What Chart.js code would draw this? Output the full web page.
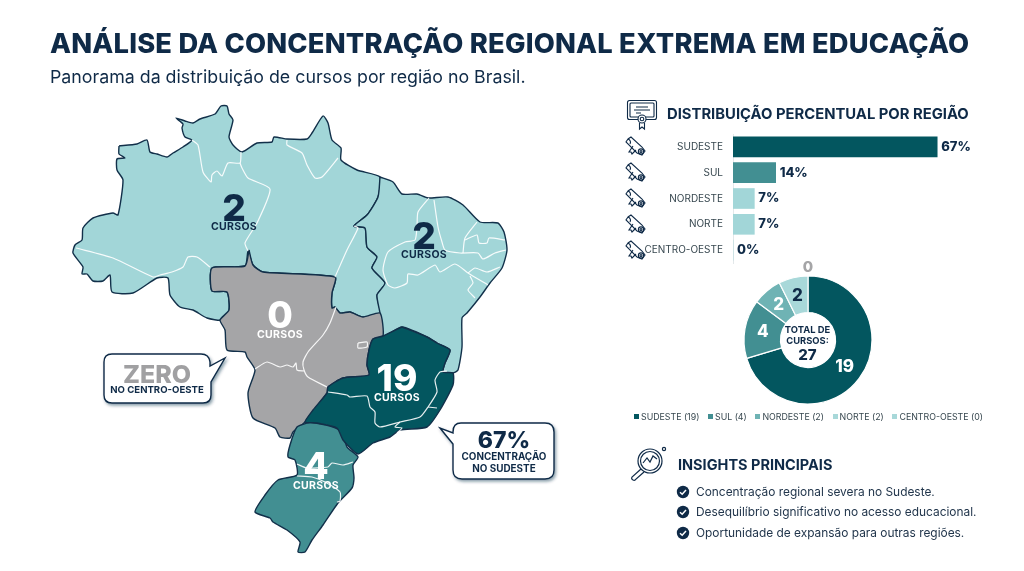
<!DOCTYPE html>
<html lang="pt-BR">
<head>
<meta charset="utf-8">
<title>Concentração regional</title>
<script src="https://cdn.jsdelivr.net/npm/chart.js@4"></script>
<style>
  html, body { margin: 0; padding: 0; background: #fff; }
  body { width: 1024px; height: 571px; position: relative; overflow: hidden; font-family: Inter, sans-serif; color: #0f2a47; }
  canvas { position: absolute; }
  .t { position: absolute; white-space: nowrap; line-height: 1; }
  .c { transform: translate(-50%, -50%); text-align: center; }
  .num { font-weight: 800; font-size: 37px; }
  .cur { font-weight: 700; font-size: 10.5px; letter-spacing: .3px; }
  .w { color: #fff; }
  svg { position: absolute; overflow: visible; }
  #legend { position: absolute; left: 634px; top: 411px; width: 349px; height: 12px; display: flex; justify-content: space-between; font-size: 8.8px; color: #37474f; line-height: 12px; white-space: nowrap; }
  #legend i { display: inline-block; width: 5px; height: 5px; margin-right: 2px; vertical-align: 1px; }
  .ins { left: 696px; font-size: 11.9px; color: #22364c; transform: translateY(-50%); }
</style>
</head>
<body>
<canvas id="mapChart" width="1024" height="571" style="left:0;top:0;width:1024px;height:571px"></canvas>
<canvas id="barChart" width="369" height="161" style="left:620px;top:118px;width:369px;height:161px"></canvas>
<canvas id="donutChart" width="364" height="164" style="left:625.5px;top:258px;width:364px;height:164px"></canvas>

<div class="t" style="left:50px;top:29.5px;font-size:27.3px;font-weight:800;letter-spacing:.2px">ANÁLISE DA CONCENTRAÇÃO REGIONAL EXTREMA EM EDUCAÇÃO</div>
<div class="t" style="left:50px;top:68px;font-size:17.8px;font-weight:400">Panorama da distribuição de cursos por região no Brasil.</div>

<div class="t c num" style="left:234px;top:207px">2</div>
<div class="t c cur" style="left:234px;top:227px">CURSOS</div>
<div class="t c num" style="left:424px;top:235px">2</div>
<div class="t c cur" style="left:424px;top:255px">CURSOS</div>
<div class="t c num w" style="left:280px;top:314px">0</div>
<div class="t c cur w" style="left:280px;top:335px">CURSOS</div>
<div class="t c num w" style="left:397px;top:377px">19</div>
<div class="t c cur w" style="left:397px;top:398px">CURSOS</div>
<div class="t c num w" style="left:316px;top:465px">4</div>
<div class="t c cur w" style="left:316px;top:486px">CURSOS</div>

<svg width="1024" height="571" style="left:0;top:0">
  <defs><filter id="sh" x="-20%" y="-20%" width="150%" height="150%"><feDropShadow dx="1.5" dy="2" stdDeviation="1.5" flood-color="#0f2a47" flood-opacity=".45"/></filter></defs>
  <path filter="url(#sh)" d="M112 354H201Q209 354 210 362V366L225 358L211 382V395Q211 403 203 403H112Q104 403 104 395V362Q104 354 112 354Z" fill="#fff" stroke="#0f2a47" stroke-width="1.4"/>
  <path filter="url(#sh)" d="M461 423H545Q554 423 554 432V470Q554 479 545 479H462Q453 479 453 470V444L440 428L453 433V432Q453 423 461 423Z" fill="#fff" stroke="#0f2a47" stroke-width="1.4"/>
</svg>
<div class="t c" style="left:157px;top:374px;font-size:25px;font-weight:800;color:#a0a0a2">ZERO</div>
<div class="t c" style="left:157px;top:390px;font-size:9.6px;font-weight:700">NO CENTRO-OESTE</div>
<div class="t c" style="left:504px;top:440px;font-size:23px;font-weight:800">67%</div>
<div class="t c" style="left:504px;top:457px;font-size:9.9px;font-weight:700">CONCENTRAÇÃO</div>
<div class="t c" style="left:504px;top:469px;font-size:9.9px;font-weight:700">NO SUDESTE</div>

<!-- certificado -->
<svg width="32" height="30" style="left:627px;top:100px" fill="none" stroke="#0f2a47" stroke-width="1.1">
  <rect x=".5" y=".5" width="29" height="19" rx="2"/><rect x="3" y="3" width="24" height="14" rx="1"/>
  <path d="M9 7H21M7 10H23M9 13H14"/><circle cx="15" cy="19" r="4" fill="#fff"/><circle cx="15" cy="19" r="1.8"/><path d="M12.5 23V29L15 27L17.5 29V23"/>
</svg>
<div class="t" style="left:667px;top:107px;font-size:14.8px;font-weight:700">DISTRIBUIÇÃO PERCENTUAL POR REGIÃO</div>

<svg width="0" height="0"><defs>
  <g id="roll" fill="none" stroke="#0f2a47" stroke-width="1.1">
    <path d="M3 2L1 5L12 16L17 18L20 14L17 10L6 0Z" fill="#fff"/><path d="M3 2C5 3 6 5 5 7M8 9L4 15L6 15L7 17L11 13"/><circle cx="16" cy="14.5" r="2.6"/><circle cx="16" cy="14.5" r="1"/>
  </g></defs></svg>
<svg width="22" height="20" style="left:625px;top:137px"><use href="#roll"/></svg>
<svg width="22" height="20" style="left:625px;top:163px"><use href="#roll"/></svg>
<svg width="22" height="20" style="left:625px;top:189px"><use href="#roll"/></svg>
<svg width="22" height="20" style="left:625px;top:215px"><use href="#roll"/></svg>
<svg width="22" height="20" style="left:625px;top:241px"><use href="#roll"/></svg>

<div class="t c" style="left:807.5px;top:335px;font-size:9.4px;font-weight:700;line-height:11px">TOTAL DE<br>CURSOS:</div>
<div class="t c" style="left:807.5px;top:354px;font-size:15px;font-weight:800">27</div>
<div id="legend"></div>

<!-- lupa -->
<svg width="38" height="36" style="left:630px;top:446px" fill="none" stroke="#0f2a47" stroke-width="1.2">
  <circle cx="20" cy="15" r="12"/><circle cx="20" cy="15" r="9.5"/><path d="M13 17L17 12L20 16L23 10L27 13"/><path d="M11 23L2 31Q1 33 3 34Q5 35 6 33L14 26"/><circle cx="34" cy="3" r="1.6"/>
</svg>
<div class="t" style="left:678px;top:457.5px;font-size:14.5px;font-weight:700">INSIGHTS PRINCIPAIS</div>

<svg width="14" height="14" viewBox="0 0 14 14" style="left:676px;top:484.5px"><circle cx="7" cy="7" r="6.2" fill="#0f2a47"/><path d="M4 7.2L6.2 9.2L10 5" fill="none" stroke="#fff" stroke-width="1.5"/></svg>
<svg width="14" height="14" viewBox="0 0 14 14" style="left:676px;top:505px"><circle cx="7" cy="7" r="6.2" fill="#0f2a47"/><path d="M4 7.2L6.2 9.2L10 5" fill="none" stroke="#fff" stroke-width="1.5"/></svg>
<svg width="14" height="14" viewBox="0 0 14 14" style="left:676px;top:526px"><circle cx="7" cy="7" r="6.2" fill="#0f2a47"/><path d="M4 7.2L6.2 9.2L10 5" fill="none" stroke="#fff" stroke-width="1.5"/></svg>
<div class="t ins" style="top:491.5px">Concentração regional severa no Sudeste.</div>
<div class="t ins" style="top:512px">Desequilíbrio significativo no acesso educacional.</div>
<div class="t ins" style="top:533px">Oportunidade de expansão para outras regiões.</div>

<script>
const regions = ['SUDESTE', 'SUL', 'NORDESTE', 'NORTE', 'CENTRO-OESTE']
const percentages = [67, 14, 7, 7, 0]
const courses = [19, 4, 2, 2, 0]
const barColors = ['#03565f', '#428f92', '#a2d6d8', '#a2d6d8', '#a2d6d8']
const donutColors = ['#03565f', '#428f92', '#6fb3b4', '#a8d8d9', '#a8d8d9']

// contornos
const norte = [[119,146],[137,144],[147,140],[150,152],[157,154],[167,157],[173,153],[183,147],[192,140],[185,137],[182,128],[183,124],[176,118],[185,121],[193,123],[200,119],[215,114],[221,106],[227,106],[229,114],[233,120],[229,137],[233,145],[242,152],[257,143],[272,142],[274,137],[287,139],[307,139],[312,133],[323,116],[328,123],[332,140],[341,148],[341,160],[357,170],[380,177],[378,197],[367,215],[354,226],[365,228],[367,247],[377,257],[372,268],[385,283],[377,295],[380,313],[363,317],[350,312],[340,313],[335,307],[332,308],[332,293],[335,277],[263,272],[253,265],[248,251],[245,266],[212,268],[212,291],[227,292],[229,310],[222,320],[207,318],[193,310],[180,307],[170,295],[168,278],[157,278],[133,293],[112,292],[110,275],[103,281],[93,281],[87,274],[82,274],[83,267],[73,253],[75,245],[82,240],[83,228],[93,218],[113,213],[118,215],[123,180],[117,170],[117,159],[125,158],[119,154],[119,146]]
const nordeste = [[380,177],[393,182],[402,194],[417,194],[428,198],[448,197],[463,205],[480,222],[498,223],[504,232],[507,250],[502,268],[490,283],[480,297],[467,313],[462,318],[462,347],[458,370],[453,373],[443,372],[445,363],[450,350],[437,343],[427,337],[402,327],[383,336],[380,313],[377,295],[385,283],[372,268],[377,257],[367,247],[365,228],[354,226],[367,215],[378,197],[380,177]]
const centroOeste = [[249,250],[253,265],[263,272],[335,277],[332,293],[332,308],[335,307],[340,313],[350,312],[363,317],[380,313],[383,336],[373,339],[369,350],[367,365],[369,375],[343,378],[328,387],[327,393],[305,422],[293,432],[290,438],[280,437],[275,428],[253,418],[248,393],[255,370],[247,357],[245,352],[227,350],[225,330],[220,320],[229,310],[227,292],[212,291],[212,268],[245,266],[249,250]]
const sudeste = [[402,327],[383,336],[373,339],[369,350],[367,365],[369,375],[343,378],[328,387],[327,393],[313,410],[305,422],[317,423],[337,428],[343,440],[358,454],[373,443],[390,437],[400,430],[427,427],[440,410],[453,385],[453,373],[443,372],[445,363],[450,350],[437,343],[427,337],[402,327]]
const sul = [[310,422],[297,427],[290,445],[288,457],[295,460],[297,475],[278,480],[265,495],[255,512],[270,518],[273,522],[287,530],[300,542],[298,552],[305,552],[312,540],[323,525],[338,503],[352,488],[354,478],[353,465],[358,457],[347,447],[342,432],[333,427],[310,422]]

const stateLines = [
  [[76,248],[113,258],[153,277],[160,275],[172,272],[183,267],[188,257],[197,257],[210,267]],
  [[192,140],[198,145],[203,172],[211,182],[212,175],[217,171],[222,176],[228,163],[240,163],[241,152]],
  [[240,163],[242,168],[248,178],[270,189],[257,223],[245,243],[248,251]],
  [[287,140],[287,145],[302,153],[307,165],[315,178],[322,177],[338,158]],
  [[354,226],[358,228],[347,250],[335,277]],
  [[429,198],[418,212],[417,227],[415,240],[405,242],[388,252],[383,270],[388,285],[395,288],[407,283],[408,274],[418,275],[435,265],[440,272],[455,264],[468,273],[488,285]],
  [[434,200],[438,227],[442,242],[445,250],[460,253],[478,253],[483,259],[495,253],[506,250]],
  [[477,222],[465,238],[463,253]],
  [[465,240],[477,235],[479,243],[487,243],[489,238],[505,240]],
  [[468,273],[475,268],[487,272],[500,267]],
  [[470,276],[473,283],[468,290],[475,298]],
  [[336,307],[330,323],[323,335],[308,352],[303,362],[304,370],[308,377],[327,387]],
  [[255,369],[267,362],[280,367],[287,365],[293,367],[296,363],[297,370],[304,371]],
  [[358,343],[367,342],[367,347],[358,348],[358,343]],
  [[328,392],[347,395],[350,397],[367,396],[370,407],[375,412],[375,423],[380,427],[400,422],[420,417],[428,407],[437,392],[435,380],[440,372],[447,371]],
  [[400,422],[395,427],[402,428],[397,433]],
  [[428,407],[437,408]],
  [[297,464],[307,468],[328,467],[332,463],[343,465],[353,462]],
  [[297,476],[312,477],[325,482],[340,492],[340,501],[337,502]]
]

const toPoints = list => list.map(p => ({x: p[0], y: p[1]}))

function regionDataset(outline, color){
  return {
    data: toPoints(outline),
    showLine: true,
    fill: 'shape',
    backgroundColor: color,
    borderColor: '#12304a',
    borderWidth: 1.4,
    pointRadius: 0,
    tension: 0.2
  }
}

function stateDataset(line){
  return {
    data: toPoints(line),
    showLine: true,
    fill: false,
    borderColor: 'rgba(255,255,255,0.9)',
    borderWidth: 1.2,
    pointRadius: 0,
    tension: 0.2
  }
}

// o primeiro dataset fica por cima
new Chart(document.getElementById('mapChart'), {
  type: 'scatter',
  data: {
    datasets: [
      ...stateLines.map(stateDataset),
      regionDataset(sudeste, '#03565f'),
      regionDataset(sul, '#428f92'),
      regionDataset(centroOeste, '#a5a5a7'),
      regionDataset(nordeste, '#a2d6d8'),
      regionDataset(norte, '#a2d6d8')
    ]
  },
  options: {
    responsive: false,
    animation: false,
    events: [],
    layout: { padding: 0 },
    scales: {
      x: { display: false, min: 0, max: 1024 },
      y: { display: false, min: 0, max: 571, reverse: true }
    },
    plugins: { legend: { display: false }, tooltip: { enabled: false } }
  }
})

const barValueLabels = {
  id: 'barValueLabels',
  afterDatasetsDraw(chart){
    const ctx = chart.ctx
    ctx.save()
    ctx.font = '800 13px Inter'
    ctx.fillStyle = '#0f2a47'
    ctx.textBaseline = 'middle'
    chart.getDatasetMeta(0).data.forEach((bar, i) => {
      ctx.fillText(percentages[i] + '%', bar.x + 4, bar.y)
    })
    ctx.restore()
  }
}

new Chart(document.getElementById('barChart'), {
  type: 'bar',
  data: {
    labels: regions,
    datasets: [{
      data: percentages,
      backgroundColor: barColors,
      borderWidth: 0,
      barThickness: 20
    }]
  },
  options: {
    indexAxis: 'y',
    responsive: false,
    animation: false,
    events: [],
    layout: { padding: 0 },
    scales: {
      x: { display: false, min: 0, max: 84 },
      y: {
        afterFit(scale){ scale.width = 113 },
        grid: { display: false, drawTicks: false },
        border: { color: '#e3e8ea' },
        ticks: { color: '#37474f', padding: 10, font: { family: 'Inter', size: 10 } }
      }
    },
    plugins: { legend: { display: false }, tooltip: { enabled: false } }
  },
  plugins: [barValueLabels]
})

const donutValueLabels = {
  id: 'donutValueLabels',
  afterDatasetsDraw(chart){
    const ctx = chart.ctx
    ctx.save()
    ctx.textAlign = 'center'
    ctx.textBaseline = 'middle'
    chart.getDatasetMeta(0).data.forEach((arc, i) => {
      const pos = arc.tooltipPosition()
      if (courses[i] === 0) {
        ctx.font = '800 15px Inter'
        ctx.fillStyle = '#a5a5a7'
        ctx.fillText(courses[i], arc.x, arc.y - arc.outerRadius - 9)
        return
      }
      ctx.font = '800 17px Inter'
      ctx.fillStyle = i === 3 ? '#0f2a47' : '#fff'
      ctx.fillText(courses[i], pos.x, pos.y)
    })
    ctx.restore()
  }
}

new Chart(document.getElementById('donutChart'), {
  type: 'doughnut',
  data: {
    labels: regions,
    datasets: [{
      data: courses,
      backgroundColor: donutColors,
      borderColor: '#fff',
      borderWidth: 1.2
    }]
  },
  options: {
    responsive: false,
    animation: false,
    events: [],
    radius: 64,
    cutout: '43%',
    plugins: { legend: { display: false }, tooltip: { enabled: false } }
  },
  plugins: [donutValueLabels]
})

document.getElementById('legend').innerHTML = regions.map((r, i) =>
  '<span><i style="background:' + donutColors[i] + '"></i>' + r + ' (' + courses[i] + ')</span>'
).join('')
</script>
</body>
</html>
